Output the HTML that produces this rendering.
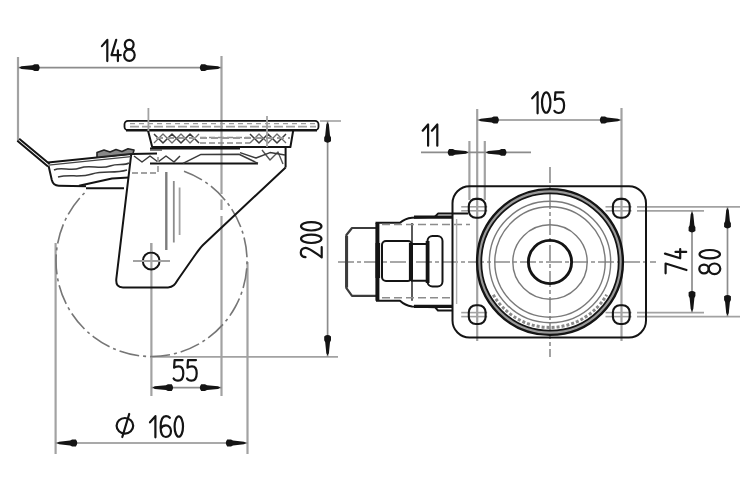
<!DOCTYPE html>
<html><head><meta charset="utf-8"><style>
html,body{margin:0;padding:0;background:#fff;}
body{width:750px;height:500px;overflow:hidden;font-family:"Liberation Sans",sans-serif;}
svg{display:block;}
</style></head><body>
<svg width="750" height="500" viewBox="0 0 750 500">
<rect width="750" height="500" fill="#fff"/>
<g stroke="#a2a2a2" stroke-width="2.2" fill="none">
<line x1="18" y1="57" x2="18" y2="141"/>
<path d="M221.5,56 L221.5,194 M221.5,199.5 L221.5,210 M221.5,216 L221.5,396"/>
<line x1="151.4" y1="243" x2="151.4" y2="396"/>
<line x1="55.6" y1="243" x2="55.6" y2="454"/>
<line x1="247.5" y1="262" x2="247.5" y2="454"/>
<line x1="320" y1="121" x2="341" y2="121" stroke-width="1.6"/>
<line x1="150" y1="356.8" x2="338" y2="356.8" stroke-width="1.8"/>
<line x1="477.2" y1="109" x2="477.2" y2="341"/>
<line x1="621.5" y1="108" x2="621.5" y2="341"/>
<line x1="469.4" y1="141" x2="469.4" y2="200"/>
<line x1="484.8" y1="141" x2="484.8" y2="200"/>
<line x1="637" y1="206.8" x2="740" y2="206.8" stroke-width="1.8"/>
<line x1="637" y1="210.8" x2="704" y2="210.8" stroke-width="1.8"/>
<line x1="637" y1="312.6" x2="704" y2="312.6" stroke-width="1.8"/>
<line x1="637" y1="316.6" x2="740" y2="316.6" stroke-width="1.8"/>
<line x1="461.2" y1="206.8" x2="487.2" y2="206.8" stroke-width="1.6"/>
<line x1="461.2" y1="210.8" x2="487.2" y2="210.8" stroke-width="1.6"/>
<line x1="605.5" y1="206.8" x2="631.5" y2="206.8" stroke-width="1.6"/>
<line x1="605.5" y1="210.8" x2="631.5" y2="210.8" stroke-width="1.6"/>
<line x1="461.2" y1="312.6" x2="487.2" y2="312.6" stroke-width="1.6"/>
<line x1="461.2" y1="316.6" x2="487.2" y2="316.6" stroke-width="1.6"/>
<line x1="605.5" y1="312.6" x2="631.5" y2="312.6" stroke-width="1.6"/>
<line x1="605.5" y1="316.6" x2="631.5" y2="316.6" stroke-width="1.6"/>
</g>
<g stroke="#8c8c8c" stroke-width="1.7" fill="none">
<line x1="18" y1="67.6" x2="221.5" y2="67.6"/>
<line x1="151.4" y1="387.6" x2="221.5" y2="387.6"/>
<line x1="55.6" y1="443" x2="247.5" y2="443"/>
<line x1="327.6" y1="121" x2="327.6" y2="356.8"/>
<line x1="477.2" y1="120" x2="621.5" y2="120"/>
<line x1="421" y1="152.4" x2="531" y2="152.4"/>
<line x1="692" y1="210.8" x2="692" y2="312.6"/>
<line x1="727.5" y1="206.8" x2="727.5" y2="316.6"/>
</g>
<g fill="#141414">
<path d="M19.20,67.60 L21.50,66.30 L32.50,65.20 L34.50,64.20 L38.30,64.20 Q41.10,67.60 38.30,71.00 L34.50,71.00 L32.50,70.00 L21.50,68.90 Z"/>
<path d="M220.30,67.60 L218.00,66.30 L207.00,65.20 L205.00,64.20 L201.20,64.20 Q198.40,67.60 201.20,71.00 L205.00,71.00 L207.00,70.00 L218.00,68.90 Z"/>
<path d="M152.60,387.60 L154.90,386.30 L165.90,385.20 L167.90,384.20 L171.70,384.20 Q174.50,387.60 171.70,391.00 L167.90,391.00 L165.90,390.00 L154.90,388.90 Z"/>
<path d="M220.30,387.60 L218.00,386.30 L207.00,385.20 L205.00,384.20 L201.20,384.20 Q198.40,387.60 201.20,391.00 L205.00,391.00 L207.00,390.00 L218.00,388.90 Z"/>
<path d="M56.80,443.00 L59.10,441.70 L70.10,440.60 L72.10,439.60 L75.90,439.60 Q78.70,443.00 75.90,446.40 L72.10,446.40 L70.10,445.40 L59.10,444.30 Z"/>
<path d="M246.30,443.00 L244.00,441.70 L233.00,440.60 L231.00,439.60 L227.20,439.60 Q224.40,443.00 227.20,446.40 L231.00,446.40 L233.00,445.40 L244.00,444.30 Z"/>
<path d="M327.60,122.20 L326.30,124.50 L325.20,135.50 L324.20,137.50 L324.20,141.30 Q327.60,144.10 331.00,141.30 L331.00,137.50 L330.00,135.50 L328.90,124.50 Z"/>
<path d="M327.60,355.60 L326.30,353.30 L325.20,342.30 L324.20,340.30 L324.20,336.50 Q327.60,333.70 331.00,336.50 L331.00,340.30 L330.00,342.30 L328.90,353.30 Z"/>
<path d="M478.40,120.00 L480.70,118.70 L491.70,117.60 L493.70,116.60 L497.50,116.60 Q500.30,120.00 497.50,123.40 L493.70,123.40 L491.70,122.40 L480.70,121.30 Z"/>
<path d="M620.30,120.00 L618.00,118.70 L607.00,117.60 L605.00,116.60 L601.20,116.60 Q598.40,120.00 601.20,123.40 L605.00,123.40 L607.00,122.40 L618.00,121.30 Z"/>
<path d="M468.20,152.40 L465.90,151.10 L454.90,150.00 L452.90,149.00 L449.10,149.00 Q446.30,152.40 449.10,155.80 L452.90,155.80 L454.90,154.80 L465.90,153.70 Z"/>
<path d="M486.00,152.40 L488.30,151.10 L499.30,150.00 L501.30,149.00 L505.10,149.00 Q507.90,152.40 505.10,155.80 L501.30,155.80 L499.30,154.80 L488.30,153.70 Z"/>
<path d="M692.00,212.00 L690.70,214.30 L689.60,225.30 L688.60,227.30 L688.60,231.10 Q692.00,233.90 695.40,231.10 L695.40,227.30 L694.40,225.30 L693.30,214.30 Z"/>
<path d="M692.00,311.40 L690.70,309.10 L689.60,298.10 L688.60,296.10 L688.60,292.30 Q692.00,289.50 695.40,292.30 L695.40,296.10 L694.40,298.10 L693.30,309.10 Z"/>
<path d="M727.50,208.00 L726.20,210.30 L725.10,221.30 L724.10,223.30 L724.10,227.10 Q727.50,229.90 730.90,227.10 L730.90,223.30 L729.90,221.30 L728.80,210.30 Z"/>
<path d="M727.50,315.40 L726.20,313.10 L725.10,302.10 L724.10,300.10 L724.10,296.30 Q727.50,293.50 730.90,296.30 L730.90,300.10 L729.90,302.10 L728.80,313.10 Z"/>
</g>
<g stroke="#8c8c8c" stroke-width="1.6" fill="none" stroke-dasharray="16 3 4 3">
<line x1="338" y1="262" x2="656" y2="262"/>
<line x1="550" y1="167" x2="550" y2="357"/>
</g>
<path d="M 184 171.2 A 95.5 95.5 0 1 1 85.3 192.2" fill="none" stroke="#767676" stroke-width="1.6" stroke-dasharray="20 4 3 4"/>
<g stroke="#141414" stroke-width="2" fill="none" stroke-linejoin="round">
<rect x="124.5" y="120.8" width="194" height="9.4" rx="3.5" stroke-width="1.8"/>
<line x1="126" y1="130.2" x2="317" y2="130.2" stroke-width="2.6"/>
<path d="M148,130.5 L152.2,147 L290.4,147 L293.2,130.5"/>
<path d="M150,148.6 L240,148.6 M285.6,147 L285.6,167.4"/>
<path d="M150,163.4 L258,163.4"/>
<path d="M131.5,152 L116.3,279 Q115.6,287.4 123,287.4 L168,287.4 C173,287.4 175,284.5 178,279.5 L193,258 C196,254 199,249 203,245 L285.6,167.4"/>
<circle cx="151.2" cy="261" r="8.4"/>
<path d="M17.3,140.8 L48,166.4 M19.2,138.8 L49.6,164"/>
<path d="M48,162.5 L131,154 L157,153.6"/>
<path d="M48.6,166 L51.8,180 Q53.2,185.5 58.8,185.7 L86,186.2"/>
<path d="M86,188.2 L124,188.2 M79,185.8 L112,178.6 L129,177.4"/>
</g>
<g stroke="#3a3a3a" stroke-width="1.5" fill="none" stroke-linejoin="round">
<path d="M154,134 L163,143 L172,134 L181,143 L190,134 L199,143 M250,134 L259,143 L268,134 L277,143 L286,134"/>
<path d="M200,137.5 L250,137.5 M200,143 L250,143" stroke="#8a8a8a" stroke-width="1.5" stroke-dasharray="6 3"/>
<path d="M183,163.4 L201,154.4 L239,154.2 L258,163.4"/>
<path d="M154,143 L163,134 L172,143 L181,134 L190,143 L199,134 M250,143 L259,134 L268,143 L277,134 L286,143" stroke="#6a6a6a" stroke-width="1.3"/>
<path d="M130,123.6 L316,123.6" stroke="#9a9a9a" stroke-width="1.2" stroke-dasharray="5 4"/>
<path d="M262,150 L270,160 L278,152 L283,164 M150,150 L162,150" stroke="#555" stroke-width="1.4"/>
<path d="M240,152.6 L256,158 L270,152.6 L285,155"/>
<path d="M134,156 L142,162 L150,156 L158,162 L166,156 L174,162 L180,156"/>
<path d="M54,170 C62,166 70,172 80,168 C90,164 100,170 110,166 C118,163 124,166 129,163"/>
<path d="M58,177 C70,174 80,178 92,174 C104,170 114,174 127,170"/>
<path d="M48.5,165.2 L131,156.6" stroke="#444" stroke-width="1.3"/>
<path d="M97,157.2 L97,152.5 L104,150 L110,152 L116,149.5 L122,151.5 L128,148.8 L134,150 L133,153.6 Z" fill="#888" stroke="#222" stroke-width="1.6"/>
</g>
<g stroke="#a2a2a2" stroke-width="1.8" fill="none">
<line x1="148.4" y1="108" x2="148.4" y2="131"/>
<line x1="267" y1="116" x2="267" y2="147"/>
<line x1="166.3" y1="172" x2="166.3" y2="250" stroke="#7c7c7c" stroke-width="2.4"/>
<line x1="173.8" y1="181" x2="173.8" y2="242.5" stroke="#8c8c8c"/>
<line x1="179.6" y1="187.5" x2="179.6" y2="235"/>
<line x1="133" y1="261" x2="170" y2="261"/>
<line x1="151.2" y1="243" x2="151.2" y2="252"/>
<path d="M130,126.6 L316,126.6" stroke-dasharray="9 3"/>
<path d="M156,138 L290,138" stroke-dasharray="7 4" stroke="#999"/>
<path d="M132,173 L158,173 L158,155" stroke-dasharray="6 3"/>
</g>
<g stroke="#141414" stroke-width="2" fill="none" stroke-linejoin="round">
<rect x="452.5" y="186.2" width="193.5" height="151.3" rx="17"/>
</g>
<circle cx="550" cy="262" r="70.8" fill="none" stroke="#9a9a9a" stroke-width="3.5"/>
<g stroke="#141414" fill="none">
<circle cx="550" cy="262" r="72.9" stroke-width="2.4"/>
<circle cx="550" cy="262" r="68.7" stroke-width="1.8"/>
<circle cx="550" cy="262" r="21.6" stroke-width="2.9"/>
</g>
<g stroke="#7a7a7a" stroke-width="1.4" fill="none">
<circle cx="550" cy="262" r="60.7"/>
<circle cx="550" cy="262" r="55.2"/>
<circle cx="550" cy="262" r="37.2"/>
<path d="M 493.3 294.75 A 65.5 65.5 0 0 0 606.7 294.75" stroke="#8a8a8a" stroke-width="3" stroke-dasharray="3 2"/>
</g>
<g stroke="#141414" stroke-width="2.1" fill="none">
<rect x="468.8" y="198.9" width="16.8" height="18.8" rx="7"/>
<rect x="612.9" y="198.9" width="16.8" height="18.8" rx="7"/>
<rect x="468.8" y="305.20000000000005" width="16.8" height="18.8" rx="7"/>
<rect x="612.9" y="305.20000000000005" width="16.8" height="18.8" rx="7"/>
</g>
<g stroke="#141414" stroke-width="2" fill="none" stroke-linejoin="round">
<path d="M376,228 L352,228 L346.4,235 L346.4,288.2 L352,295.8 L376,295.8" stroke="#3c3c3c" stroke-width="2.2"/>
<line x1="346.6" y1="236" x2="346.6" y2="287.5" stroke="#3c3c3c" stroke-width="3"/>
<line x1="377.4" y1="223" x2="377.4" y2="300.7" stroke-width="4"/>
<line x1="377.8" y1="243" x2="377.8" y2="278" stroke-width="4.6"/>
<path d="M375.5,222.8 L400,222.8 Q405,218.5 412,217.8 L435,216.8 L438,213.6 L468,213.6"/>
<path d="M376,300.8 L400,300.8 Q405,305.5 412,306.4 L435,307.2 L438,310.5 L452,310.5"/>
<line x1="412" y1="223" x2="412" y2="300.7" stroke-width="1.4"/>
<rect x="382" y="241" width="30" height="40" rx="4"/>
<line x1="410.8" y1="243" x2="410.8" y2="281" stroke-width="3.8"/>
<path d="M411,244 L428,244 M411,280.8 L428,280.8"/>
<line x1="427.6" y1="241" x2="427.6" y2="283" stroke-width="3.8"/>
<rect x="427.5" y="236" width="15" height="50.5" rx="5"/>
<path d="M414,217.2 L452,217.2 M414,306.4 L452,306.4" stroke-width="3.2"/>
</g>
<g stroke="#8c8c8c" stroke-width="1.4" fill="none" stroke-dasharray="8 4">
<line x1="382" y1="224.5" x2="470" y2="224.5"/>
<line x1="382" y1="297.8" x2="450" y2="297.8"/>
<line x1="456.6" y1="219" x2="456.6" y2="304" stroke-dasharray="none" stroke="#b0b0b0"/>
</g>
<g stroke="#141414" stroke-width="2.2" fill="none" stroke-linecap="round" stroke-linejoin="round">
<g transform="translate(101.9,39.6)"><path d="M0,6.5 L5.4,0.3 L5.4,21.5"/></g><g transform="translate(111.2,39.6)"><path d="M5,0.3 L0.3,15.5 L9.6,15.5 M6.7,10.8 L6.7,21.5"/></g><g transform="translate(123.6,39.6)"><ellipse cx="5.6" cy="5" rx="4.4" ry="4.7"/><ellipse cx="5.8" cy="15.5" rx="5.3" ry="5.8"/></g>
<g transform="translate(173.4,359.5)"><path d="M9.2,0.6 L1.2,0.6 L0.7,8.2 C2,7.2 3.6,6.8 5.2,6.8 C8.2,6.8 9.9,9.5 9.9,13.8 C9.9,18.4 7.8,21.2 4.6,21.2 C2.6,21.2 1,20.4 0.2,19"/></g><g transform="translate(186.8,359.5)"><path d="M9.2,0.6 L1.2,0.6 L0.7,8.2 C2,7.2 3.6,6.8 5.2,6.8 C8.2,6.8 9.9,9.5 9.9,13.8 C9.9,18.4 7.8,21.2 4.6,21.2 C2.6,21.2 1,20.4 0.2,19"/></g>
<g transform="translate(150,415.8)"><path d="M0,6.5 L5.4,0.3 L5.4,21.5"/></g><g transform="translate(160.2,415.8)"><path d="M9.6,2 C8.6,0.8 7.2,0.3 5.8,0.3 C2.3,0.3 0.4,4.6 0.4,11.5 C0.4,17.8 2.4,21.2 5.6,21.2 C8.8,21.2 10.8,18.8 10.8,15.3 C10.8,11.8 8.6,9.6 5.7,9.6 C3.4,9.6 1.4,11 0.5,13"/></g><g transform="translate(173.8,415.8)"><ellipse cx="5" cy="10.75" rx="4.2" ry="10.2"/></g>
<ellipse cx="124.9" cy="425.8" rx="8.3" ry="7.8"/><path d="M129.2,414 L122.3,437"/>
<g transform="translate(532.2,91.8)"><path d="M0,6.5 L5.4,0.3 L5.4,21.5"/></g><g transform="translate(541.2,91.8)"><ellipse cx="5" cy="10.75" rx="4.2" ry="10.2"/></g><g transform="translate(554.2,91.8)"><path d="M9.2,0.6 L1.2,0.6 L0.7,8.2 C2,7.2 3.6,6.8 5.2,6.8 C8.2,6.8 9.9,9.5 9.9,13.8 C9.9,18.4 7.8,21.2 4.6,21.2 C2.6,21.2 1,20.4 0.2,19"/></g>
<g transform="translate(422.7,124.2)"><path d="M0,6.5 L5.4,0.3 L5.4,21.5"/></g><g transform="translate(431.9,124.2)"><path d="M0,6.5 L5.4,0.3 L5.4,21.5"/></g>
<g transform="translate(300.5,257.8) rotate(-90)"><path d="M0.6,5 C0.8,1.8 3,0.3 5.3,0.3 C8,0.3 10,2.3 10,5.3 C10,8.6 7,12 0.4,21.2 L10.6,21.2"/></g><g transform="translate(300.5,243.8) rotate(-90)"><ellipse cx="5" cy="10.75" rx="4.2" ry="10.2"/></g><g transform="translate(300.5,231.3) rotate(-90)"><ellipse cx="5" cy="10.75" rx="4.2" ry="10.2"/></g>
<g transform="translate(665,273.5) rotate(-90)"><path d="M0.2,0.6 L10,0.6 L3.5,21.5"/></g>
<g transform="translate(664.7,258.6) rotate(-90)"><path d="M5,0.3 L0.3,15.5 L9.6,15.5 M6.7,10.8 L6.7,21.5"/></g>
<g transform="translate(699,274.6) rotate(-90)"><ellipse cx="5.6" cy="5" rx="4.4" ry="4.7"/><ellipse cx="5.8" cy="15.5" rx="5.3" ry="5.8"/></g><g transform="translate(699,259.2) rotate(-90)"><ellipse cx="5" cy="10.75" rx="4.2" ry="10.2"/></g>
</g>
</svg>
</body></html>
